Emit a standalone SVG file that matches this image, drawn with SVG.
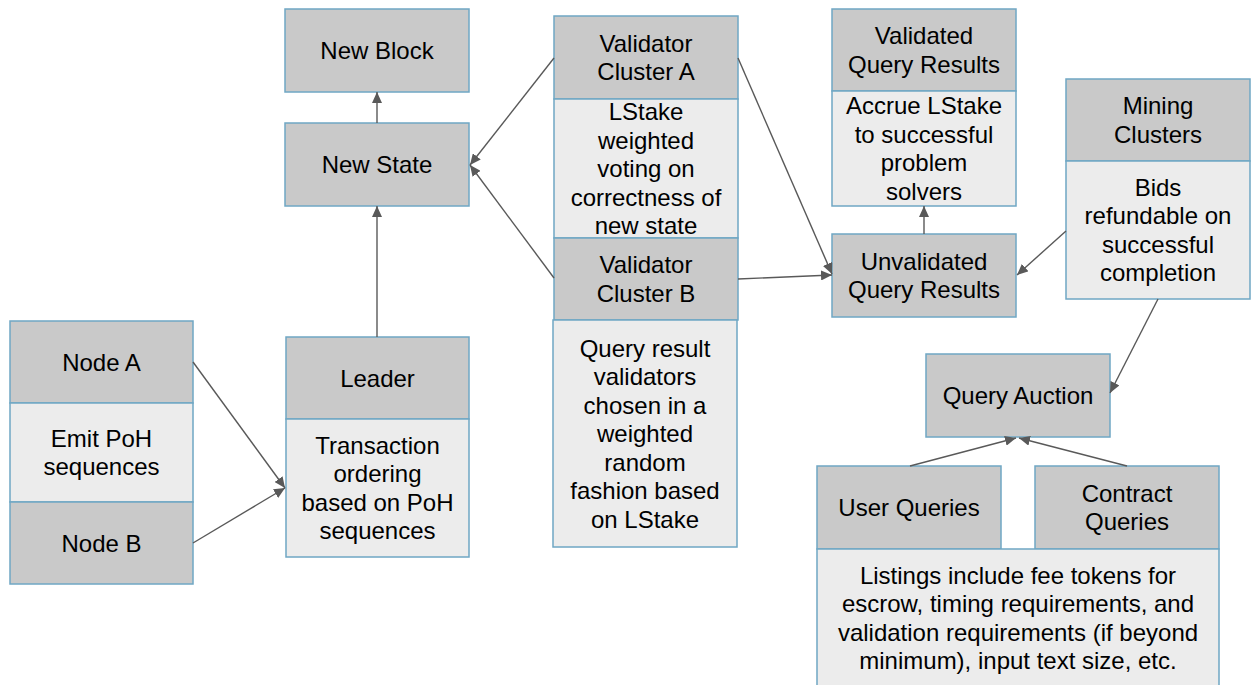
<svg xmlns="http://www.w3.org/2000/svg" width="1256" height="685" viewBox="0 0 1256 685">
  <style>
    .dark { fill: #c9c9c9; stroke: #6fa7c4; stroke-width: 1.5; }
    .light { fill: #ececec; stroke: #6fa7c4; stroke-width: 1.5; }
    text { font-family: "Liberation Sans", Arial, sans-serif; font-size: 24px; fill: #000; text-anchor: middle; }
    .edge { stroke: #595959; stroke-width: 1.4; fill: none; marker-end: url(#arrow); }
  </style>
  <defs>
    <marker id="arrow" markerUnits="userSpaceOnUse" markerWidth="12" markerHeight="10" refX="11" refY="5" orient="auto">
      <path d="M0,0 L11,5 L0,10 Z" fill="#595959"/>
    </marker>
  </defs>
  <rect width="1256" height="685" fill="#ffffff"/>

  <!-- Node A / Node B column -->
  <g id="node-a">
    <rect class="dark" x="10" y="321" width="183" height="82"/>
    <text x="101.5" y="370.5">Node A</text>
  </g>
  <g id="emit-poh">
    <rect class="light" x="10" y="403" width="183" height="99"/>
    <text x="101.5" y="446.75">Emit PoH</text>
    <text x="101.5" y="475.25">sequences</text>
  </g>
  <g id="node-b">
    <rect class="dark" x="10" y="502" width="183" height="82"/>
    <text x="101.5" y="551.5">Node B</text>
  </g>

  <!-- Leader -->
  <g id="leader">
    <rect class="dark" x="286" y="337" width="183" height="82"/>
    <text x="377.5" y="386.5">Leader</text>
  </g>
  <g id="transaction-ordering">
    <rect class="light" x="286" y="419" width="183" height="138"/>
    <text x="377.5" y="453.75">Transaction</text>
    <text x="377.5" y="482.25">ordering</text>
    <text x="377.5" y="510.75">based on PoH</text>
    <text x="377.5" y="539.25">sequences</text>
  </g>

  <!-- State and block -->
  <g id="new-block">
    <rect class="dark" x="285" y="9" width="184" height="83"/>
    <text x="377" y="59">New Block</text>
  </g>
  <g id="new-state">
    <rect class="dark" x="285" y="123" width="184" height="83"/>
    <text x="377" y="173">New State</text>
  </g>

  <!-- Validator clusters -->
  <g id="validator-cluster-a">
    <rect class="dark" x="554" y="16" width="184" height="83"/>
    <text x="646" y="51.75">Validator</text>
    <text x="646" y="80.25">Cluster A</text>
  </g>
  <g id="lstake-voting">
    <rect class="light" x="554" y="99" width="184" height="139"/>
    <text x="646" y="120">LStake</text>
    <text x="646" y="148.5">weighted</text>
    <text x="646" y="177">voting on</text>
    <text x="646" y="205.5">correctness of</text>
    <text x="646" y="234">new state</text>
  </g>
  <g id="validator-cluster-b">
    <rect class="dark" x="554" y="238" width="184" height="82"/>
    <text x="646" y="273.25">Validator</text>
    <text x="646" y="301.75">Cluster B</text>
  </g>
  <g id="query-result-validators">
    <rect class="light" x="553" y="320" width="184" height="227"/>
    <text x="645" y="356.5">Query result</text>
    <text x="645" y="385">validators</text>
    <text x="645" y="413.5">chosen in a</text>
    <text x="645" y="442">weighted</text>
    <text x="645" y="470.5">random</text>
    <text x="645" y="499">fashion based</text>
    <text x="645" y="527.5">on LStake</text>
  </g>

  <!-- Query results -->
  <g id="validated-query-results">
    <rect class="dark" x="832" y="9" width="184" height="82"/>
    <text x="924" y="44.25">Validated</text>
    <text x="924" y="72.75">Query Results</text>
  </g>
  <g id="accrue-lstake">
    <rect class="light" x="832" y="91" width="184" height="115"/>
    <text x="924" y="114.25">Accrue LStake</text>
    <text x="924" y="142.75">to successful</text>
    <text x="924" y="171.25">problem</text>
    <text x="924" y="199.75">solvers</text>
  </g>
  <g id="unvalidated-query-results">
    <rect class="dark" x="832" y="234" width="184" height="83"/>
    <text x="924" y="269.75">Unvalidated</text>
    <text x="924" y="298.25">Query Results</text>
  </g>

  <!-- Mining clusters -->
  <g id="mining-clusters">
    <rect class="dark" x="1066" y="79" width="184" height="82"/>
    <text x="1158" y="114.25">Mining</text>
    <text x="1158" y="142.75">Clusters</text>
  </g>
  <g id="bids-refundable">
    <rect class="light" x="1066" y="161" width="184" height="138"/>
    <text x="1158" y="195.75">Bids</text>
    <text x="1158" y="224.25">refundable on</text>
    <text x="1158" y="252.75">successful</text>
    <text x="1158" y="281.25">completion</text>
  </g>

  <!-- Auction and queries -->
  <g id="query-auction">
    <rect class="dark" x="926" y="354" width="184" height="83"/>
    <text x="1018" y="404">Query Auction</text>
  </g>
  <g id="user-queries">
    <rect class="dark" x="817" y="466" width="184" height="83"/>
    <text x="909" y="516">User Queries</text>
  </g>
  <g id="contract-queries">
    <rect class="dark" x="1035" y="466" width="184" height="83"/>
    <text x="1127" y="501.75">Contract</text>
    <text x="1127" y="530.25">Queries</text>
  </g>
  <g id="listings">
    <rect class="light" x="817" y="549" width="402" height="150"/>
    <text x="1018" y="583.5">Listings include fee tokens for</text>
    <text x="1018" y="612">escrow, timing requirements, and</text>
    <text x="1018" y="640.5">validation requirements (if beyond</text>
    <text x="1018" y="669">minimum), input text size, etc.</text>
  </g>

  <!-- Connectors -->
  <g id="connectors">
    <line class="edge" x1="193" y1="362" x2="285" y2="488"/>
    <line class="edge" x1="193" y1="543" x2="285" y2="488"/>
    <line class="edge" x1="377" y1="337" x2="377" y2="206"/>
    <line class="edge" x1="377" y1="123" x2="377" y2="92"/>
    <line class="edge" x1="554" y1="58" x2="470" y2="165"/>
    <line class="edge" x1="554" y1="278" x2="470" y2="165"/>
    <line class="edge" x1="738" y1="58" x2="832" y2="274"/>
    <line class="edge" x1="738" y1="279" x2="832" y2="275"/>
    <line class="edge" x1="924" y1="234" x2="924" y2="206"/>
    <line class="edge" x1="1066" y1="231" x2="1017" y2="275"/>
    <line class="edge" x1="1158" y1="299" x2="1110" y2="393"/>
    <line class="edge" x1="910" y1="466" x2="1016" y2="438"/>
    <line class="edge" x1="1127" y1="466" x2="1019" y2="438"/>
  </g>
</svg>
